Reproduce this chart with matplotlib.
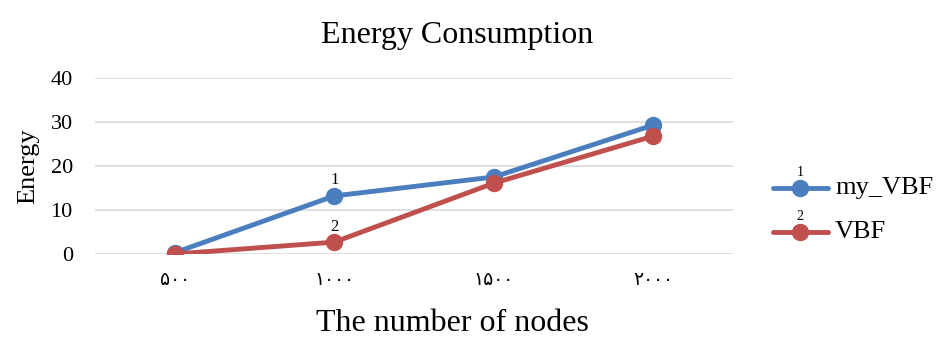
import matplotlib.pyplot as plt

nodes = ['۵۰۰', '۱۰۰۰', '۱۵۰۰', '۲۰۰۰']
my_vbf = [0.3, 13.2, 17.5, 29.3]
vbf = [0.0, 2.7, 16.1, 26.8]
series_names = ['my_VBF', 'VBF']
point_labels = ['1', '2']

serif = ['Liberation Serif', 'DejaVu Sans']
blue = '#4A7EBF'
red = '#C0504D'

fig = plt.figure(figsize=(9.36, 3.38), dpi=100)
ax = fig.add_axes([95 / 936, 1 - 254 / 338, 638 / 936, 176 / 338])

x = [i + 0.5 for i in range(len(nodes))]
ax.plot(x, my_vbf, color=blue, lw=3.5, marker='o', ms=11.5, zorder=3)
ax.plot(x, vbf, color=red, lw=3.5, marker='o', ms=11.5, zorder=4)

# small labels above the second point of each series
ax.text(x[1], my_vbf[1] + 1.7, point_labels[0], ha='center', va='bottom',
        fontsize=12, family=serif)
ax.text(x[1], vbf[1] + 1.7, point_labels[1], ha='center', va='bottom',
        fontsize=12, family=serif)

ax.set_xlim(0, 4)
ax.set_ylim(0, 40)
ax.set_yticks([0, 10, 20, 30, 40])
ax.set_xticks(x)
ax.set_xticklabels(nodes, family=serif, fontsize=13.5)
for lab in ax.get_yticklabels():
    lab.set_family(serif)
    lab.set_fontsize(16)
ax.tick_params(length=0)
ax.tick_params(axis='y', pad=16)
ax.tick_params(axis='x', pad=13)
ax.grid(axis='y', color='#D9D9D9', lw=1.2)
ax.set_axisbelow(True)
for s in ax.spines.values():
    s.set_visible(False)

# title and x label are centred over the whole chart, not just the plot area
ax.set_title('Energy Consumption', family=serif, fontsize=23, pad=25, x=0.567)
ax.set_ylabel('Energy', family=serif, fontsize=19, labelpad=8)
ax.set_xlabel('The number of nodes', family=serif, fontsize=23)
ax.xaxis.set_label_coords(0.56, -0.315)

# legend drawn by hand so the little series numbers sit above the markers
for i, (name, col) in enumerate(zip(series_names, [blue, red])):
    yy = 1 - (188 + 44 * i) / 338
    fig.add_artist(plt.Line2D([773 / 936, 828 / 936], [yy, yy], color=col,
                              lw=3.5, solid_capstyle='round'))
    fig.add_artist(plt.Line2D([800 / 936], [yy], color=col, marker='o',
                              ms=11.5))
    fig.text(800 / 936, yy + 0.028, point_labels[i], ha='center', va='bottom',
             fontsize=10, family=serif)
    fig.text(835 / 936, yy, name, ha='left', va='center', fontsize=19,
             family=serif)

fig.savefig('out.png', dpi=100)
